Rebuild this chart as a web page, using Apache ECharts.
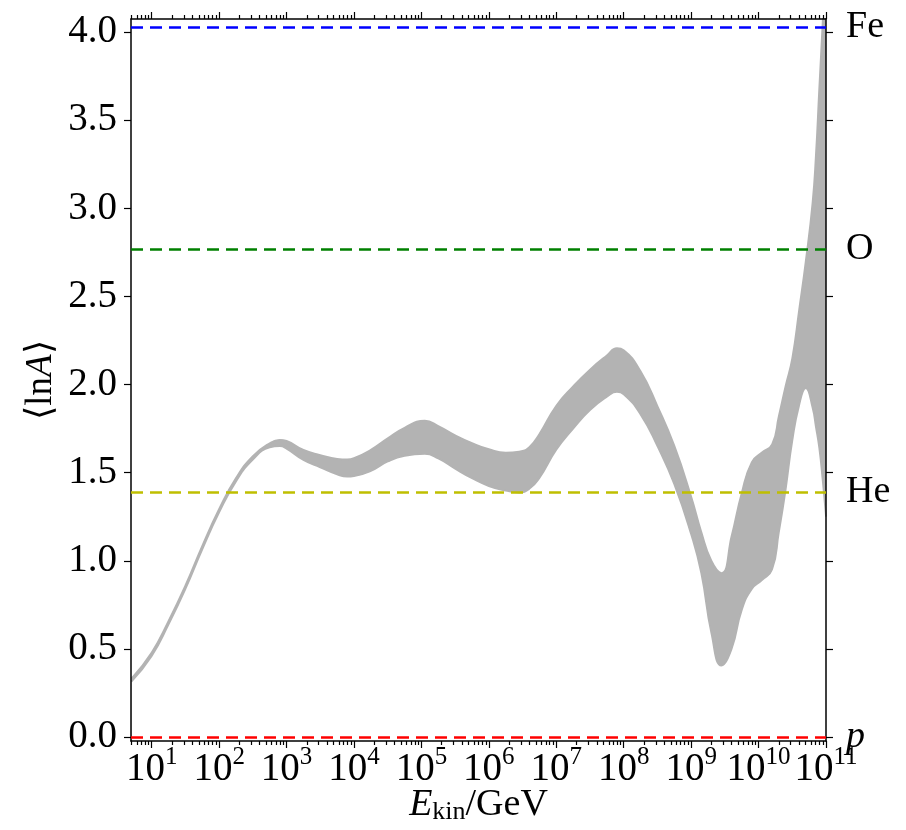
<!DOCTYPE html>
<html>
<head>
<meta charset="utf-8">
<script src="https://cdn.jsdelivr.net/npm/echarts@6/dist/echarts.min.js"></script>
<style>
  html, body { margin: 0; padding: 0; background: #fff; }
  #chart { width: 906px; height: 830px; }
</style>
</head>
<body>
<div id="chart"></div>
<script>
// log10(E_kin / GeV) of the sampled points
const logE = [0.699, 1.0, 1.25, 1.5, 1.75, 2.0, 2.25, 2.5, 2.75, 2.9, 3.0, 3.25, 3.5, 3.75, 3.9,
  4.0, 4.25, 4.5, 4.75, 5.05, 5.25, 5.5, 5.75, 6.0, 6.25, 6.45, 6.6, 6.75, 7.0, 7.25, 7.5, 7.75,
  7.9, 8.0, 8.25, 8.5, 8.75, 9.0, 9.15, 9.3, 9.45, 9.6, 9.75, 9.9, 10.05, 10.2, 10.3, 10.4,
  10.5, 10.6, 10.7, 10.8, 10.85, 10.9, 10.95, 11.0];
// upper / lower edge of the <lnA> band
const upper = [0.332, 0.480, 0.659, 0.860, 1.085, 1.294, 1.470, 1.594, 1.667, 1.686, 1.680,
  1.629, 1.600, 1.578, 1.575, 1.582, 1.630, 1.695, 1.755, 1.795, 1.765, 1.712, 1.668, 1.633,
  1.613, 1.619, 1.645, 1.720, 1.880, 1.990, 2.085, 2.165, 2.206, 2.195, 2.075, 1.878, 1.653,
  1.365, 1.165, 1.000, 0.930, 1.140, 1.385, 1.560, 1.615, 1.660, 1.820, 1.990, 2.150, 2.420,
  2.700, 3.030, 3.300, 3.680, 4.050, 4.450];
const lower = [0.314, 0.460, 0.639, 0.840, 1.065, 1.274, 1.450, 1.574, 1.643, 1.650, 1.636,
  1.572, 1.530, 1.490, 1.477, 1.480, 1.510, 1.563, 1.595, 1.606, 1.580, 1.522, 1.468, 1.424,
  1.398, 1.387, 1.408, 1.470, 1.630, 1.750, 1.855, 1.930, 1.958, 1.945, 1.830, 1.650, 1.434,
  1.150, 0.930, 0.590, 0.405, 0.500, 0.720, 0.840, 0.890, 0.950, 1.160, 1.400, 1.680, 1.880,
  1.980, 1.870, 1.760, 1.640, 1.460, 1.250];

// reference elements: ln A of p, He, O, Fe
const refNames = ['p', 'He', 'O', 'Fe'];
const refValues = [0, 1.386, 2.773, 4.025];

const yTicks = [0, 0.5, 1.0, 1.5, 2.0, 2.5, 3.0, 3.5, 4.0];
const xTickExps = [1, 2, 3, 4, 5, 6, 7, 8, 9, 10, 11];

const refColors = ['#ff0000', '#bfbf00', '#008000', '#0000ff'];
const SERIF = 'Liberation Serif';
const BAND = '#b3b3b3';
const X_MIN = 4.93, X_MAX = 1.00001e11, Y_MIN = -0.0227, Y_MAX = 4.074;

const xMajor = xTickExps.map(e => Math.pow(10, e));
const xMinor = [];
for (let e = 0; e <= 10; e++) {
  for (let m = 2; m <= 9; m++) {
    const v = m * Math.pow(10, e);
    if (v >= X_MIN && v <= X_MAX) xMinor.push(v);
  }
}

const upperData = logE.map((l, i) => [Math.pow(10, l), upper[i]]);
const lowerData = logE.map((l, i) => [Math.pow(10, l), lower[i]]);

function xAxisOf(pos, ticks, len, withLine, withLabel) {
  const ax = {
    type: 'log', logBase: 10, position: pos, min: X_MIN, max: X_MAX, z: 10,
    axisLine: { show: withLine, onZero: false, lineStyle: { color: '#000', width: 1.5 } },
    axisTick: { show: true, inside: false, length: len, customValues: ticks,
      lineStyle: { color: '#000', width: 1.2 } },
    axisLabel: { show: false },
    splitLine: { show: false }, minorTick: { show: false }
  };
  if (withLabel) {
    ax.axisLabel = {
      show: true, customValues: ticks, margin: 4, color: '#000',
      showMinLabel: true, showMaxLabel: true, hideOverlap: false,
      formatter: v => '{b|10}{s|' + Math.round(Math.log10(v)) + '}',
      rich: {
        b: { fontFamily: SERIF, fontSize: 39, color: '#000', verticalAlign: 'bottom', lineHeight: 44 },
        s: { fontFamily: SERIF, fontSize: 25, color: '#000', verticalAlign: 'top', lineHeight: 30 }
      }
    };
    ax.name = '{i|E}{sub|kin}{n|/GeV}';
    ax.nameLocation = 'middle';
    ax.nameGap = 44;
    ax.nameMoveOverlap = false;
    ax.nameTextStyle = {
      rich: {
        i: { fontFamily: SERIF, fontSize: 38, fontStyle: 'italic', color: '#000' },
        sub: { fontFamily: SERIF, fontSize: 26, color: '#000', padding: [14, 0, 0, 0] },
        n: { fontFamily: SERIF, fontSize: 38, color: '#000' }
      }
    };
  }
  return ax;
}

const chart = echarts.init(document.getElementById('chart'));
chart.setOption({
  animation: false,
  backgroundColor: '#fff',
  grid: { left: 131, right: 80, top: 19, bottom: 89, outerBoundsMode: 'none', containLabel: false },
  xAxis: [
    xAxisOf('bottom', xMajor, 7, true, true),
    xAxisOf('bottom', xMinor, 4, false, false),
    xAxisOf('top', xMajor, 7, true, false),
    xAxisOf('top', xMinor, 4, false, false)
  ],
  yAxis: [
    {
      type: 'value', position: 'left', min: Y_MIN, max: Y_MAX, z: 10,
      axisLine: { show: true, onZero: false, lineStyle: { color: '#000', width: 1.5 } },
      axisTick: { show: true, length: 7, customValues: yTicks, lineStyle: { color: '#000', width: 1.2 } },
      axisLabel: { customValues: yTicks, margin: 14, color: '#000', fontFamily: SERIF, fontSize: 39,
        formatter: v => v.toFixed(1) },
      splitLine: { show: false },
      name: '⟨ln{i|A}⟩', nameLocation: 'middle', nameGap: 71, nameMoveOverlap: false,
      nameTextStyle: {
        fontFamily: SERIF, fontSize: 37, color: '#000',
        rich: { i: { fontFamily: SERIF, fontSize: 37, fontStyle: 'italic', color: '#000' } }
      }
    },
    {
      type: 'value', position: 'right', min: Y_MIN, max: Y_MAX, z: 10,
      axisLine: { show: true, onZero: false, lineStyle: { color: '#000', width: 1.5 } },
      axisTick: { show: true, length: 7, customValues: yTicks, lineStyle: { color: '#000', width: 1.2 } },
      axisLabel: { show: false },
      splitLine: { show: false }
    }
  ],
  series: [
    {
      name: 'upper', type: 'line', data: upperData, smooth: 0.5, symbol: 'none', z: 2,
      lineStyle: { color: BAND, width: 1.8 },
      areaStyle: { color: BAND, opacity: 1, origin: 'start' }
    },
    {
      name: 'lower', type: 'line', data: lowerData, smooth: 0.5, symbol: 'none', z: 3,
      lineStyle: { color: BAND, width: 1.8 },
      areaStyle: { color: '#fff', opacity: 1, origin: 'start' }
    },
    {
      name: 'refs', type: 'line', data: [], z: 5,
      markLine: {
        silent: true, symbol: ['none', 'none'], animation: false, z: 20,
        data: refValues.map((v, i) => ({
          yAxis: v,
          lineStyle: { color: refColors[i], width: 2.5, type: [12, 7] },
          label: {
            show: true, position: 'end', distance: 20, color: '#000',
            formatter: refNames[i] === 'p' ? '{i|p}' : refNames[i],
            fontFamily: SERIF, fontSize: 38,
            rich: { i: { fontFamily: SERIF, fontSize: 38, fontStyle: 'italic', color: '#000' } }
          }
        }))
      }
    }
  ]
});
</script>
</body>
</html>
